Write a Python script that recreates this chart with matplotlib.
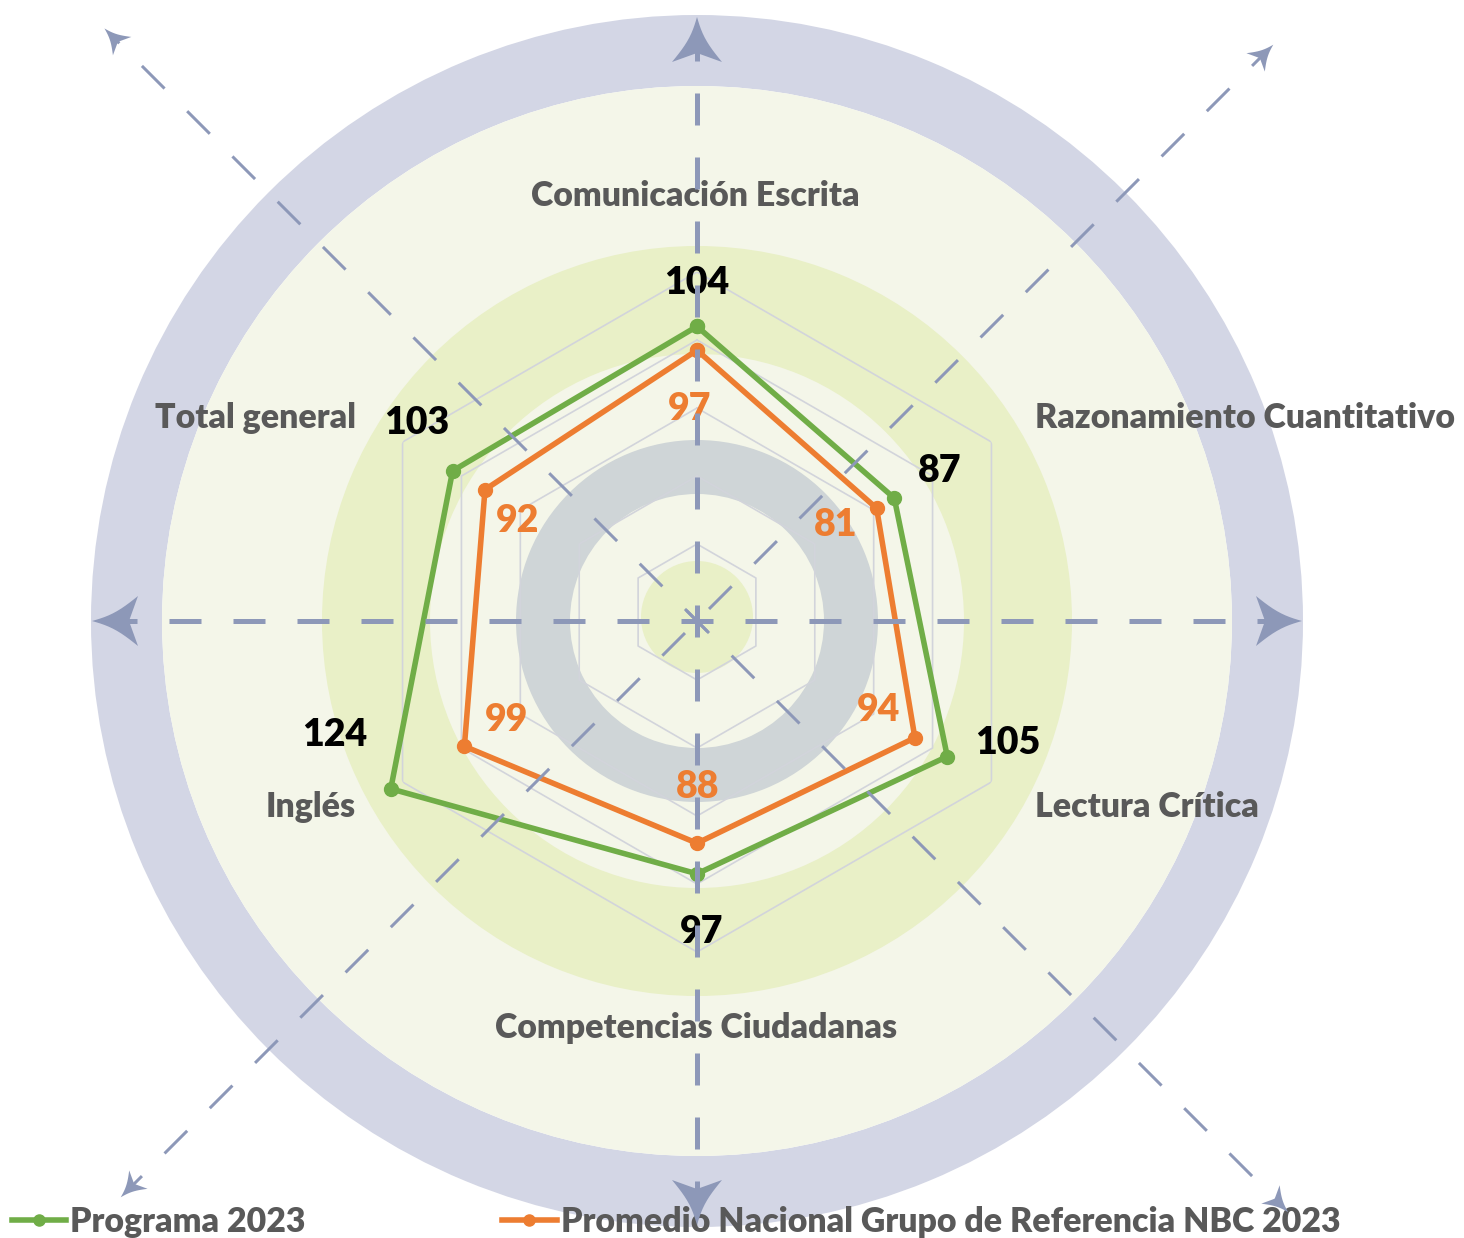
import numpy as np
import matplotlib.pyplot as plt
from matplotlib.patches import Wedge, Circle, Polygon

# Radar data
categories = ['Comunicación Escrita', 'Razonamiento Cuantitativo', 'Lectura Crítica',
              'Competencias Ciudadanas', 'Inglés', 'Total general']
programa = [104, 87, 105, 97, 124, 103]
promedio = [97, 81, 94, 88, 99, 92]
series_names = ['Programa 2023', 'Promedio Nacional Grupo de Referencia NBC 2023']
r_ticks = [20, 40, 60, 80, 100, 120]

GREEN = '#70AD47'
ORANGE = '#ED7D31'
LABEL_GRAY = '#595959'
ARROW = '#8D98B8'
GRID = '#D2D4DB'
WEIGHT = 'heavy'

plt.rcParams['font.family'] = ['Lato', 'DejaVu Sans']
plt.rcParams['font.weight'] = WEIGHT
plt.rcParams['lines.scale_dashes'] = False

W, H = 1464, 1238
PX = 0.72  # points per pixel at dpi 100
fig = plt.figure(figsize=(W / 100, H / 100), dpi=100)

# ---- decorative background (pixel coordinates) ----
bg = fig.add_axes([0, 0, 1, 1])
bg.set_xlim(0, W)
bg.set_ylim(H, 0)
bg.axis('off')
ox, oy = 697, 621
bg.add_patch(Wedge((ox, oy), 606, 0, 360, width=71, color='#D3D6E5', lw=0))
bg.add_patch(Circle((ox, oy), 535, color='#F4F6E9', lw=0))
bg.add_patch(Wedge((ox, oy), 375, 0, 360, width=108, color='#E9F0C7', lw=0))
bg.add_patch(Wedge((ox, oy), 181, 0, 360, width=54, color='#CFD5D7', lw=0))
bg.add_patch(Circle((ox, oy - 4), 56, color='#E9F0C7', lw=0))

# category labels
cat_pos = [(695, 196, 'center'), (1035, 418, 'left'), (1035, 807, 'left'),
           (696, 1028, 'center'), (356, 807, 'right'), (356, 418, 'right')]
for name, (x, y, ha) in zip(categories, cat_pos):
    bg.text(x, y, name, ha=ha, va='center', fontsize=24.4, color=LABEL_GRAY,
            fontweight=WEIGHT)

# ---- radar ----
cx, cy, R = 697, 612, 340
ax = fig.add_axes([(cx - R) / W, (H - cy - R) / H, 2 * R / W, 2 * R / H],
                  projection='polar')
ax.set_theta_zero_location('N')
ax.set_theta_direction(-1)
ax.set_ylim(r_ticks[0], r_ticks[-1])
ax.set_facecolor('none')
ax.grid(False)
ax.spines['polar'].set_visible(False)
ax.set_xticks([])
ax.set_yticks([])

theta = np.linspace(0, 2 * np.pi, len(categories), endpoint=False)
closed = np.append(theta, theta[0])
for v in r_ticks[1:]:
    ax.plot(closed, [v] * len(closed), color=GRID, lw=1.2, zorder=1)

l1, = ax.plot(closed, programa + programa[:1], color=GREEN, lw=4, marker='o',
              markersize=10, clip_on=False, zorder=3)
l2, = ax.plot(closed, promedio + promedio[:1], color=ORANGE, lw=4, marker='o',
              markersize=10, clip_on=False, zorder=3)

# label offsets in pixels (right, up)
green_off = [(0, 43), (45, 27), (61, 14), (5, -58), (-56, 54), (-36, 48)]
orange_off = [(-7, -59), (-41, -17), (-36, 28), (1, 56), (42, 26), (33, -31)]
for t, v, (dx, dy) in zip(theta, programa, green_off):
    ax.annotate(str(v), xy=(t, v), xytext=(dx * PX, dy * PX), textcoords='offset points',
                ha='center', va='center', fontsize=27, color='black',
                fontweight=WEIGHT, annotation_clip=False)
for t, v, (dx, dy) in zip(theta, promedio, orange_off):
    ax.annotate(str(v), xy=(t, v), xytext=(dx * PX, dy * PX), textcoords='offset points',
                ha='center', va='center', fontsize=27, color=ORANGE,
                fontweight=WEIGHT, annotation_clip=False)

leg = ax.legend([l1, l2], series_names, loc='center left',
                bbox_to_anchor=(12 / W, 1 - 1222 / H), bbox_transform=fig.transFigure,
                ncol=2, frameon=False, prop={'size': 24.4, 'weight': WEIGHT},
                handlelength=1.6, handletextpad=0.12, columnspacing=5.8,
                borderpad=0, borderaxespad=0, markerscale=0.8)
for txt in leg.get_texts():
    txt.set_color(LABEL_GRAY)

# ---- dashed arrows on top ----
top = fig.add_axes([0, 0, 1, 1], zorder=5)
top.set_xlim(0, W)
top.set_ylim(H, 0)
top.axis('off')


def arrow_head(tip, u, length, half_w, notch):
    tip = np.asarray(tip, float)
    u = np.asarray(u, float) / np.hypot(*u)
    n = np.array([-u[1], u[0]])
    back = tip - length * u
    pts = []
    for side in (1, -1):
        corner = back + side * half_w * n
        s = np.linspace(0, 1, 12)
        seg = tip[None, :] + s[:, None] * (corner - tip)[None, :]
        seg -= (side * 0.15 * half_w * np.sin(np.pi * s))[:, None] * n[None, :]
        if side == -1:
            seg = seg[::-1]
        pts.append(seg)
    notch_pt = tip - (length - notch) * u
    poly = np.vstack([pts[0], [notch_pt], pts[1]])
    return Polygon(poly, closed=True, color=ARROW, lw=0)


dash = (0, (32 * PX, 32 * PX))
# horizontal and vertical axes
top.plot([ox - 16 - 64 * 9, ox + 16 + 64 * 9], [oy, oy], color=ARROW, lw=5 * PX,
         linestyle=dash, dash_capstyle='butt')
top.plot([ox, ox], [oy - 16 - 64 * 9, oy + 16 + 64 * 9], color=ARROW, lw=5 * PX,
         linestyle=dash, dash_capstyle='butt')
top.add_patch(arrow_head((ox, 17), (0, -1), 45, 25, 9))
top.add_patch(arrow_head((ox, 1225), (0, 1), 45, 25, 9))
top.add_patch(arrow_head((92, oy), (-1, 0), 46, 25, 9))
top.add_patch(arrow_head((1302, oy), (1, 0), 46, 25, 9))

# diagonals: (direction, tip distance, distance of first dash start from centre)
for (sx, sy), dist, first in [((-1, -1), 838, -15), ((1, 1), 836, -15),
                              ((1, -1), 815, 17), ((-1, 1), 815, 17)]:
    u = np.array([sx, sy]) / np.sqrt(2)
    start = np.array([ox, oy]) + first * u
    end = np.array([ox, oy]) + (dist - 10) * u
    top.plot([start[0], end[0]], [start[1], end[1]], color=ARROW, lw=3 * PX,
             linestyle=dash, dash_capstyle='butt')
    tip = np.array([ox, oy]) + dist * u
    top.add_patch(arrow_head(tip, u, 25, 13, 6))

fig.savefig('out.png', dpi=100)
